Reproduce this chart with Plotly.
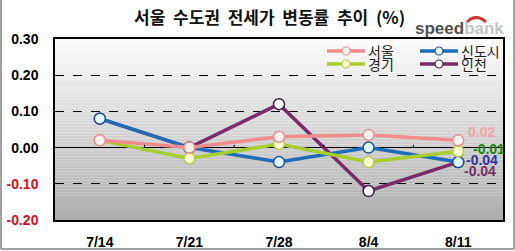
import plotly.graph_objects as go

weeks = ["7/14", "7/21", "7/28", "8/4", "8/11"]
seoul = [0.02, 0.00, 0.03, 0.035, 0.02]
sindosi = [0.08, 0.00, -0.04, 0.00, -0.04]
gyeonggi = [0.02, -0.03, 0.01, -0.04, -0.01]
incheon = [0.08, 0.00, 0.12, -0.12, -0.04]
ytick_vals = [0.3, 0.2, 0.1, 0.0, -0.1, -0.2]

# name, values, line colour, marker fill, marker edge, end-label colour
series = [
    ("서울", seoul, "#F28C8C", "#FFF0F0", "#E89090", "#F4A3A3"),
    ("신도시", sindosi, "#1F6DB8", "#E0FFFF", "#1F4F90", "#33339A"),
    ("경기", gyeonggi, "#A6CE2E", "#FFFFD0", "#B8C850", "#108A10"),
    ("인천", incheon, "#7A2C6A", "#FFFFFF", "#3A1A4A", "#7A2C6A"),
]
label_yshift = [8, 2, 2, -9]
label_xshift = [8, 6, 13, 4]

W, H = 515, 251
L, R, T, B = 55, 12, 39, 31
pw, ph = W - L - R, H - T - B


def px(x):
    return (x - L) / pw


def py(y):
    return (H - B - y) / ph


fig = go.Figure()
order = [3, 1, 2, 0]
for i in order:
    name, vals, col, fill, edge, lc = series[i]
    fig.add_trace(go.Scatter(
        x=weeks, y=vals, mode="lines+markers", name=name,
        line=dict(color=col, width=3.5),
        marker=dict(size=11, color=fill, line=dict(color=edge, width=1.5)),
        showlegend=False, cliponaxis=False,
    ))

shapes = []
# gradient background
n = 60
c0, c1 = (252, 252, 252), (174, 174, 174)
for k in range(n):
    t = k / (n - 1)
    c = tuple(int(round(c0[j] + (c1[j] - c0[j]) * t)) for j in range(3))
    shapes.append(dict(type="rect", xref="x domain", yref="y domain",
                       x0=0, x1=1, y0=1 - (k + 1) / n, y1=1 - k / n,
                       fillcolor="rgb(%d,%d,%d)" % c, line=dict(width=0),
                       layer="below"))
# small ticks on zero line at category boundaries
for k in range(len(weeks) - 1):
    shapes.append(dict(type="line", xref="x", yref="y", x0=k + 0.5, x1=k + 0.5,
                       y0=0, y1=0.008, line=dict(color="black", width=1)))
# outer frame
shapes.append(dict(type="line", xref="paper", yref="paper", x0=px(1), x1=px(1),
                   y0=py(0), y1=py(249), line=dict(color="#A0A0A0", width=2)))
shapes.append(dict(type="line", xref="paper", yref="paper", x0=px(1), x1=px(514),
                   y0=py(249), y1=py(249), line=dict(color="#A0A0A0", width=2)))
shapes.append(dict(type="line", xref="paper", yref="paper", x0=px(514), x1=px(514),
                   y0=py(0), y1=py(249), line=dict(color="#A0A0A0", width=2)))
# logo arc
shapes.append(dict(type="path", xref="paper", yref="paper",
                   path="M %f,%f Q %f,%f %f,%f" % (px(467), py(22), px(476), py(13), px(486), py(22)),
                   line=dict(color="#D83030", width=3)))

annotations = []
# legend (manual)
leg_pos = [(327, 51), (420, 51), (327, 64), (420, 64)]
for (name, vals, col, fill, edge, lc), (lx, ly) in zip(series, leg_pos):
    shapes.append(dict(type="line", xref="paper", yref="paper", x0=px(lx), x1=px(lx + 38),
                       y0=py(ly), y1=py(ly), line=dict(color=col, width=3.5)))
    shapes.append(dict(type="circle", xref="paper", yref="paper",
                       x0=px(lx + 15), x1=px(lx + 23), y0=py(ly + 4), y1=py(ly - 4),
                       fillcolor=fill, line=dict(color=edge, width=1.2)))
    annotations.append(dict(text=name, xref="paper", yref="paper", x=px(lx + 39), y=py(ly),
                            xanchor="left", yanchor="middle", showarrow=False,
                            font=dict(family="Noto Sans CJK KR", size=14, color="#222")))

# end labels (text from data)
for s, ys, xs in zip(series, label_yshift, label_xshift):
    v = s[1][-1]
    annotations.append(dict(text="<b>%.2f</b>" % v, x=weeks[-1], y=v, xref="x", yref="y",
                            xanchor="left", yanchor="middle", showarrow=False,
                            xshift=xs, yshift=ys,
                            font=dict(family="Liberation Sans", size=14, color=s[5])))

# title
annotations.append(dict(text="<b>서울  수도권  전세가  변동률  추이  (%)</b>", xref="paper", yref="paper",
                        x=px(269), y=py(16), xanchor="center", yanchor="middle", showarrow=False,
                        font=dict(family="Noto Sans CJK KR", size=17, color="#111")))
# logo
annotations.append(dict(text="<b><span style='color:#505050'>speed</span><span style='color:#C4C4C4'>bank</span></b>",
                        xref="paper", yref="paper", x=px(506), y=py(29), xanchor="right",
                        yanchor="middle", showarrow=False,
                        font=dict(family="Liberation Sans", size=17)))

ytext = []
for v in ytick_vals:
    s = "<b>%.2f</b>" % v
    if v < 0:
        s = "<span style='color:#D01020'>%s</span>" % s
    ytext.append(s)

fig.update_layout(
    width=W, height=H, margin=dict(l=L, r=R, t=T, b=B, pad=0, autoexpand=False),
    paper_bgcolor="white", plot_bgcolor="rgba(0,0,0,0)",
    shapes=shapes, annotations=annotations, showlegend=False,
    font=dict(family="Liberation Sans", size=13, color="black"),
)
fig.update_xaxes(range=[-0.5, 4.5], showgrid=False, showline=True, mirror=True,
                 linecolor="black", linewidth=1.5, ticks="", automargin=False,
                 tickvals=weeks, ticktext=["<b>%s</b>" % w for w in weeks],
                 ticklabelstandoff=8, tickfont=dict(size=14))
fig.update_yaxes(range=[-0.2, 0.3], tickvals=ytick_vals, ticktext=ytext,
                 showgrid=True, gridcolor="black", griddash="dash", gridwidth=1,
                 zeroline=True, zerolinecolor="black", zerolinewidth=1.2,
                 showline=True, mirror=True, linecolor="black", linewidth=1.5,
                 ticks="", ticklabelstandoff=12, tickfont=dict(size=14), automargin=False)

fig.write_html("out.html")
